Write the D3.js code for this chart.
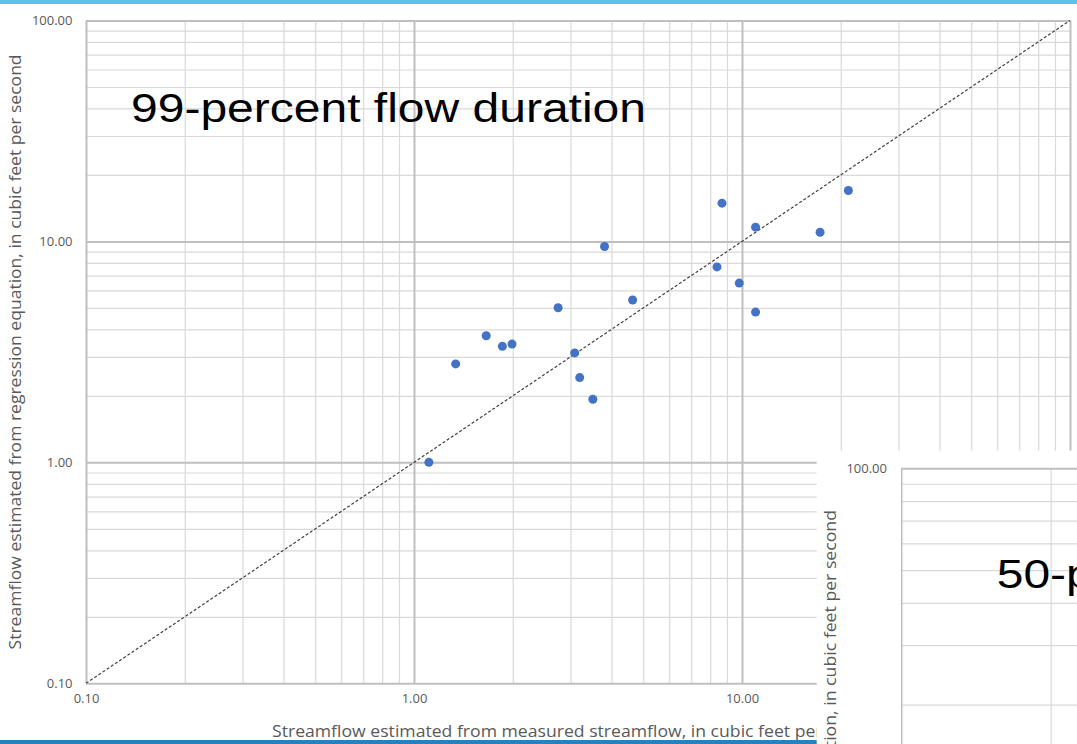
<!DOCTYPE html>
<html>
<head>
<meta charset="utf-8">
<script src="https://cdn.jsdelivr.net/npm/d3@7"></script>
<style>
  html, body { margin: 0; padding: 0; background: #ffffff; }
  svg { display: block; }
</style>
</head>
<body>
<svg id="chart" width="1077" height="744"></svg>
<script>
// Streamflow at gaged sites: measured vs. regression-estimated (cubic feet per second)
const measured   = [1.11, 1.34, 1.66, 1.86, 1.99, 2.75, 3.09, 3.20, 3.51, 3.81, 4.64, 8.39, 8.69, 9.81, 11.0, 11.0, 17.3, 21.1];
const regression = [1.00, 2.79, 3.74, 3.35, 3.43, 5.01, 3.13, 2.42, 1.93, 9.49, 5.43, 7.67, 14.9, 6.48, 4.79, 11.6, 11.0, 17.0];

// Axis tick values (labelled) and the 1:1 reference line end points
const majorTicks = [0.1, 1, 10, 100];
const xTickLabels = [0.1, 1, 10];
const yTickLabels = [0.1, 1, 10, 100];
const equalLine = [0.1, 100];

const titleMain = "99-percent flow duration";
const titleNext = "50-percent flow duration";
const xTitle = "Streamflow estimated from measured streamflow, in cubic feet per second";
const yTitle = "Streamflow estimated from regression equation, in cubic feet per second";

// minor gridline values: 2..9 within each decade
const minorTicks = [];
[0.1, 1, 10].forEach(k => { for (let m = 2; m <= 9; m++) minorTicks.push(+(m * k).toPrecision(3)); });

const svg = d3.select("#chart");
const fmt = d3.format(".2f");
const labelFont = "'Open Sans', sans-serif";

// ---------- main chart ----------
const x = d3.scaleLog().domain([0.1, 100]).range([86, 1070]);
const y = d3.scaleLog().domain([0.1, 100]).range([683.3, 20.5]);
const [L, R] = x.range();
const [B, T] = y.range();

const main = svg.append("g");

function grid(g, axis, color, width) {
  g.call(axis);
  g.select(".domain").remove();
  g.selectAll(".tick text").remove();
  g.selectAll(".tick line").attr("stroke", color).attr("stroke-width", width);
}

main.append("g").attr("transform", `translate(0,${B})`)
  .call(g => grid(g, d3.axisBottom(x).tickValues(minorTicks).tickSize(-(B - T)), "#d9d9d9", 1.2));
main.append("g").attr("transform", `translate(${L},0)`)
  .call(g => grid(g, d3.axisLeft(y).tickValues(minorTicks).tickSize(-(R - L)), "#d9d9d9", 1.2));
main.append("g").attr("transform", `translate(0,${B})`)
  .call(g => grid(g, d3.axisBottom(x).tickValues(majorTicks).tickSize(-(B - T)), "#bfbfbf", 2));
main.append("g").attr("transform", `translate(${L},0)`)
  .call(g => grid(g, d3.axisLeft(y).tickValues(majorTicks).tickSize(-(R - L)), "#bfbfbf", 2));

// tick labels
const yAxis = main.append("g").attr("transform", `translate(${L - 13.5},0)`)
  .call(d3.axisLeft(y).tickValues(yTickLabels).tickFormat(fmt).tickSize(0).tickPadding(0));
yAxis.select(".domain").remove();
yAxis.selectAll("text").attr("fill", "#595959").attr("font-family", labelFont).attr("font-size", 13);

const xAxis = main.append("g").attr("transform", `translate(0,${B + 10})`)
  .call(d3.axisBottom(x).tickValues(xTickLabels).tickFormat(fmt).tickSize(0).tickPadding(0));
xAxis.select(".domain").remove();
xAxis.selectAll("text").attr("fill", "#595959").attr("font-family", labelFont).attr("font-size", 13)
  .attr("dy", "0.71em").attr("y", 0);

// 1:1 line
main.append("line")
  .attr("x1", x(equalLine[0])).attr("y1", y(equalLine[0]))
  .attr("x2", x(equalLine[1])).attr("y2", y(equalLine[1]))
  .attr("stroke", "#404040").attr("stroke-width", 1.2).attr("stroke-dasharray", "3,2");

// points
main.append("g").selectAll("circle")
  .data(measured.map((m, i) => ({ m, r: regression[i] })))
  .join("circle")
  .attr("cx", d => x(d.m)).attr("cy", d => y(d.r)).attr("r", 4.5)
  .attr("fill", "#4472c4");

// title
main.append("text")
  .attr("x", 131).attr("y", 121.7)
  .attr("font-family", "'Liberation Sans', Arial, sans-serif").attr("font-size", 40)
  .attr("textLength", 515).attr("lengthAdjust", "spacingAndGlyphs")
  .attr("fill", "#000").text(titleMain);

// axis titles
main.append("text")
  .attr("x", 272).attr("y", 736.7)
  .attr("font-family", labelFont).attr("font-size", 17)
  .attr("textLength", 614).attr("lengthAdjust", "spacingAndGlyphs")
  .attr("fill", "#595959").text(xTitle);

main.append("text")
  .attr("transform", `translate(21,${(T + B) / 2}) rotate(-90)`)
  .attr("text-anchor", "middle")
  .attr("font-family", labelFont).attr("font-size", 17)
  .attr("textLength", 595).attr("lengthAdjust", "spacingAndGlyphs")
  .attr("fill", "#595959").text(yTitle);

// page bands
svg.append("rect").attr("x", 0).attr("y", 0).attr("width", 1077).attr("height", 4).attr("fill", "#5bc2e2");
svg.append("rect").attr("x", 0).attr("y", 740).attr("width", 1077).attr("height", 4).attr("fill", "#2a80b9");

// ---------- next chart (50-percent), partially in view ----------
const next = svg.append("g");
next.append("rect").attr("x", 816.7).attr("y", 450.7).attr("width", 1077 - 816.7).attr("height", 744 - 450.7)
  .attr("fill", "#ffffff");

const x2 = d3.scaleLog().domain([0.1, 100]).range([901, 901 + 3 * 497]);
const y2 = d3.scaleLog().domain([0.1, 100]).range([468.3 + 3 * 338, 468.3]);
const L2 = 901, T2 = 468.3, W2 = 1077 - L2, H2 = 744 - T2;

const clip = next.append("clipPath").attr("id", "clip2");
clip.append("rect").attr("x", L2).attr("y", T2 - 2).attr("width", W2).attr("height", H2 + 2);
const plot2 = next.append("g").attr("clip-path", "url(#clip2)");

plot2.append("g").attr("transform", `translate(0,${y2.range()[0]})`)
  .call(g => grid(g, d3.axisBottom(x2).tickValues(minorTicks).tickSize(-(y2.range()[0] - T2)), "#d9d9d9", 1.2));
plot2.append("g").attr("transform", `translate(${L2},0)`)
  .call(g => grid(g, d3.axisLeft(y2).tickValues(minorTicks).tickSize(-(x2.range()[1] - L2)), "#d9d9d9", 1.2));
plot2.append("g").attr("transform", `translate(0,${y2.range()[0]})`)
  .call(g => grid(g, d3.axisBottom(x2).tickValues(majorTicks).tickSize(-(y2.range()[0] - T2)), "#bfbfbf", 2));
plot2.append("g").attr("transform", `translate(${L2},0)`)
  .call(g => grid(g, d3.axisLeft(y2).tickValues(majorTicks).tickSize(-(x2.range()[1] - L2)), "#bfbfbf", 2));

const yAxis2 = next.append("g").attr("transform", `translate(${L2 - 14},0)`)
  .call(d3.axisLeft(y2).tickValues([100]).tickFormat(fmt).tickSize(0).tickPadding(0));
yAxis2.select(".domain").remove();
yAxis2.selectAll("text").attr("fill", "#595959").attr("font-family", labelFont).attr("font-size", 13);

next.append("text")
  .attr("x", 996.7).attr("y", 588)
  .attr("font-family", "'Liberation Sans', Arial, sans-serif").attr("font-size", 40)
  .attr("textLength", 515).attr("lengthAdjust", "spacingAndGlyphs")
  .attr("fill", "#000").text(titleNext);

next.append("text")
  .attr("transform", `translate(836,510) rotate(-90)`)
  .attr("text-anchor", "end")
  .attr("font-family", labelFont).attr("font-size", 17)
  .attr("textLength", 600).attr("lengthAdjust", "spacingAndGlyphs")
  .attr("fill", "#595959").text(yTitle);
</script>
</body>
</html>
